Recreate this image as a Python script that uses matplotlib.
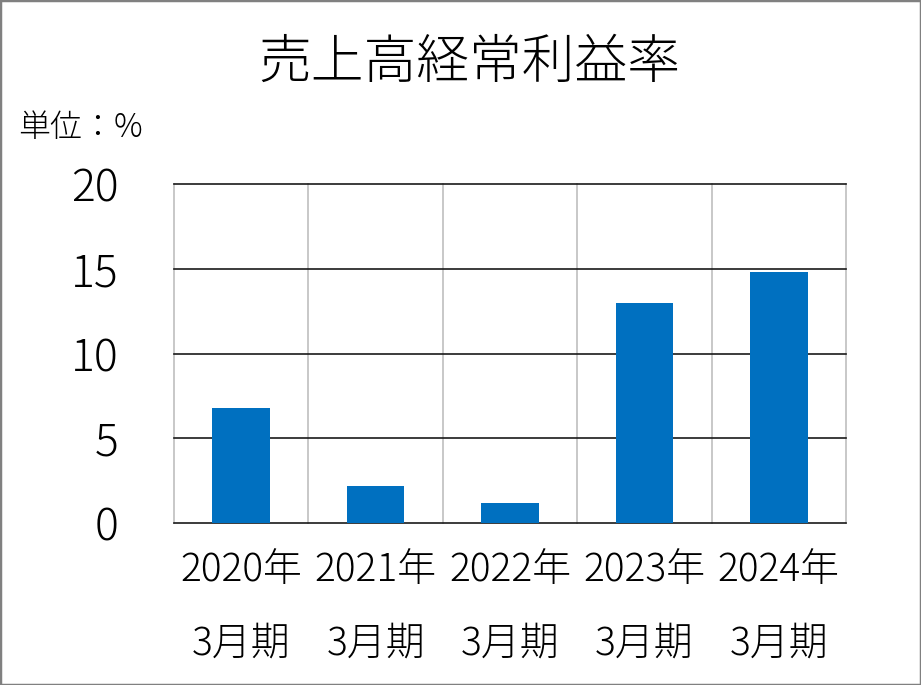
import matplotlib
matplotlib.use("Agg")
import matplotlib.pyplot as plt
from matplotlib.patches import Rectangle

plt.rcParams['font.family'] = ['Noto Sans CJK JP', 'DejaVu Sans']
plt.rcParams['font.weight'] = 'light'

# data
years = ["2020年", "2021年", "2022年", "2023年", "2024年"]
periods = ["3月期", "3月期", "3月期", "3月期", "3月期"]
ratio = [6.8, 2.2, 1.2, 13.0, 14.8]
yticks = [0, 5, 10, 15, 20]

fig = plt.figure(figsize=(9.21, 6.85), dpi=100)
ax = fig.add_axes([174/921, 1-523/685, 672/921, 339/685])

x = list(range(len(years)))
ax.bar(x, ratio, width=0.43, color="#0070C0", zorder=3)

ax.set_xlim(-0.5, len(years)-0.5)
ax.set_ylim(0, 20)
ax.set_yticks(yticks)
ax.set_yticklabels([str(t) for t in yticks], fontsize=32)
ax.tick_params(axis='y', length=0, pad=40)
ax.set_xticks([])
for s in ax.spines.values():
    s.set_visible(False)

# grid lines
for t in yticks:
    ax.axhline(t, color="#1a1a1a", lw=1.2, zorder=2, clip_on=False)
for i in range(len(years)+1):
    ax.axvline(i-0.5, color="#c8c8c8", lw=1.4, zorder=1, clip_on=False)

# category labels
tr = ax.get_xaxis_transform()
for i in x:
    ax.text(i, -0.14, years[i], transform=tr, ha='center', va='center', fontsize=28)
    ax.text(i, -0.355, periods[i], transform=tr, ha='center', va='center', fontsize=28)

fig.text(469/921, 1-63/685, "売上高経常利益率", ha='center', va='center', fontsize=38)
fig.text(18/921, 1-128/685, "単位：%", ha='left', va='center', fontsize=23)

fig.patches.append(Rectangle((0, 0), 1, 1, transform=fig.transFigure, fill=False,
                             edgecolor="#808080", lw=2.5))

fig.savefig("out.png", dpi=100)
